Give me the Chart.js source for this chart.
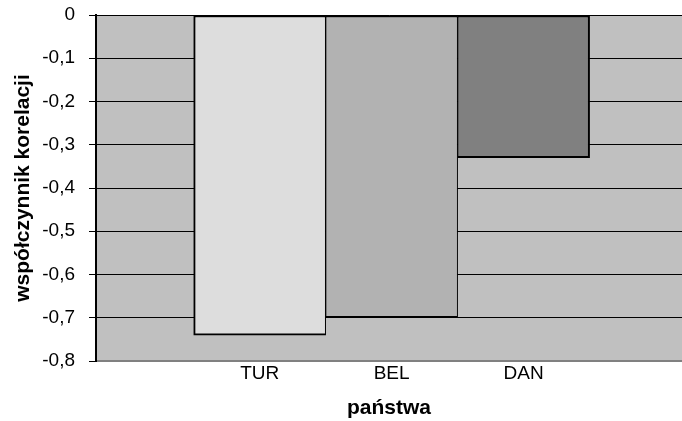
<!DOCTYPE html>
<html>
<head>
<meta charset="utf-8">
<script src="https://cdn.jsdelivr.net/npm/chart.js@4/dist/chart.umd.min.js"></script>
<style>
    html, body { margin: 0; padding: 0; background: #ffffff; }
    #wrap { width: 682px; height: 421px; }
</style>
</head>
<body>
<div id="wrap"><canvas id="corrChart"></canvas></div>
<script>

const countries = ['TUR', 'BEL', 'DAN'];
const correlation = [-0.74, -0.70, -0.33];

const yMin = -0.8;
const yMax = 0;
const yStep = 0.1;


// grey plot area like the old Excel charts
const plotBackground = {

    id: 'plotBackground',
    beforeDraw(chart) {

        const { ctx, chartArea } = chart;
        ctx.save();
        ctx.fillStyle = '#c0c0c0';
        ctx.fillRect(chartArea.left, chartArea.top, chartArea.right - chartArea.left, chartArea.bottom - chartArea.top);
        ctx.restore();
    }
};


function formatTick(value) {

    if (Math.abs(value) < 1e-9) {

        return '0';
    }
    return value.toFixed(1).replace('.', ',');
}


function initializeChart() {

    const ctx = document.getElementById('corrChart').getContext('2d');
    const points = countries.map((name, i) => ({ x: i + 1, y: correlation[i] }));
    const last = countries.length - 1;
    const font = "'Liberation Sans', Arial, sans-serif";

    new Chart(ctx, {

        type: 'bar',
        data: {

            datasets: [{

                data: points,
                backgroundColor: ['#dddddd', '#b2b2b2', '#808080'],
                borderColor: '#000000',
                borderWidth: (c) => ({
                    top: 2,
                    bottom: 2,
                    left: c.dataIndex === 0 ? 2 : 1,
                    right: c.dataIndex === last ? 2 : 1
                }),
                borderSkipped: false,
                barPercentage: 1,
                categoryPercentage: 1
            }]
        },
        options: {

            responsive: true,
            maintainAspectRatio: false,
            animation: false,
            layout: {

                padding: { top: 15, right: 0, bottom: 0, left: 0 }
            },
            plugins: {

                legend: { display: false },
                tooltip: { enabled: false }
            },
            scales: {

                x: {

                    type: 'linear',
                    offset: false,
                    min: -0.24,
                    max: 4.2,
                    afterBuildTicks: (scale) => {

                        scale.ticks = countries.map((name, i) => ({ value: i + 1 }));
                    },
                    afterFit: (scale) => {

                        scale.height = 60;
                        scale.paddingLeft = 0;
                        scale.paddingRight = 0;
                    },
                    ticks: {

                        autoSkip: false,
                        maxRotation: 0,
                        padding: 1,
                        color: '#000000',
                        font: { family: font, size: 19 },
                        callback: (value) => countries[value - 1]
                    },
                    grid: { display: false, drawTicks: false, tickLength: 0 },
                    border: { display: true, color: '#808080', width: 2 },
                    title: {

                        display: true,
                        text: 'państwa',
                        color: '#000000',
                        font: { family: font, size: 21, weight: 'bold' },
                        padding: { top: 0, bottom: 0 }
                    }
                },
                y: {

                    min: yMin,
                    max: yMax,
                    afterFit: (scale) => {

                        scale.width = 96;
                        scale.paddingTop = 0;
                        scale.paddingBottom = 0;
                    },
                    ticks: {

                        stepSize: yStep,
                        padding: 14,
                        color: '#000000',
                        font: { family: font, size: 19 },
                        callback: (value) => formatTick(value)
                    },
                    grid: {

                        color: (c) => c.index === 0 ? '#808080' : '#000000',
                        tickColor: '#000000',
                        lineWidth: 1,
                        tickLength: 7
                    },
                    border: { display: true, color: '#000000', width: 2 },
                    title: {

                        display: true,
                        text: 'współczynnik korelacji',
                        color: '#000000',
                        font: { family: font, size: 21, weight: 'bold' },
                        padding: { top: 11, bottom: 0 }
                    }
                }
            }
        },
        plugins: [plotBackground]
    });
}


window.onload = function () {

    initializeChart();
};

</script>
</body>
</html>
